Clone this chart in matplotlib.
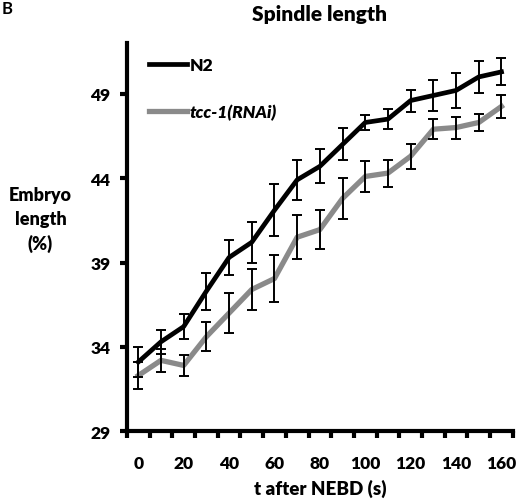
import matplotlib.pyplot as plt
import numpy as np

# time after NEBD (s)
t = [0, 10, 20, 30, 40, 50, 60, 70, 80, 90, 100, 110, 120, 130, 140, 150, 160]

# spindle length as % of embryo length
n2 = [33.1, 34.3, 35.2, 37.3, 39.3, 40.2, 42.1, 43.9, 44.7, 46.0, 47.3, 47.5, 48.6, 48.9, 49.2, 50.0, 50.3]
n2_err = [0.9, 0.7, 0.75, 1.1, 1.05, 1.2, 1.55, 1.2, 1.0, 0.95, 0.45, 0.6, 0.65, 0.9, 1.05, 0.95, 0.8]

tcc1 = [32.3, 33.2, 32.9, 34.6, 36.0, 37.4, 38.05, 40.5, 40.95, 42.8, 44.1, 44.3, 45.3, 46.9, 47.0, 47.3, 48.25]
tcc1_err = [0.8, 0.7, 0.6, 0.85, 1.2, 1.2, 1.4, 1.3, 1.15, 1.2, 0.9, 0.8, 0.75, 0.6, 0.65, 0.5, 0.7]

yticks = [29, 34, 39, 44, 49]
xlabels = [0, 20, 40, 60, 80, 100, 120, 140, 160]

plt.rcParams['font.family'] = ['Lato', 'DejaVu Sans']
plt.rcParams['font.weight'] = 'bold'

fig = plt.figure(figsize=(5.18, 5.02), dpi=100)
ax = fig.add_axes([0.245, 0.139, 0.745, 0.773])

ax.plot(t, n2, color='black', lw=3.4, label='N2', zorder=3)
ax.plot(t, tcc1, color='#8a8a8a', lw=3.8, label='tcc-1(RNAi)', zorder=3)
ax.errorbar(t, n2, yerr=n2_err, fmt='none', ecolor='black', elinewidth=1.4,
            capsize=3.5, capthick=1.4, zorder=4)
ax.errorbar(t, tcc1, yerr=tcc1_err, fmt='none', ecolor='black', elinewidth=1.4,
            capsize=3.5, capthick=1.4, zorder=4)

ax.set_xlim(-5, 165)
ax.set_ylim(29, 52)

ax.set_yticks(yticks)
ax.set_xticks(xlabels)
ax.set_xticks(np.arange(-5, 166, 10), minor=True)
ax.tick_params(axis='x', which='major', length=0, pad=17, labelsize=12.5)
ax.tick_params(axis='x', which='minor', length=5, width=3, direction='out')
ax.tick_params(axis='y', length=5, width=3, direction='out', pad=7, labelsize=12.5)
for lbl in ax.get_xticklabels() + ax.get_yticklabels():
    lbl.set_fontweight('heavy')

for s in ['top', 'right']:
    ax.spines[s].set_visible(False)
for s in ['left', 'bottom']:
    ax.spines[s].set_linewidth(3)

ax.set_title('Spindle length', fontsize=15, fontweight='heavy', pad=16.5)
ax.set_xlabel('t after NEBD (s)', fontsize=13.5, fontweight='heavy', labelpad=6)
fig.text(0.078, 0.562, 'Embryo\nlength\n(%)', ha='center', va='center',
         fontsize=13, fontweight='heavy', linespacing=1.5)
fig.text(0.003, 0.999, 'B', ha='left', va='top', fontsize=12)

leg = ax.legend(loc='upper left', frameon=False, fontsize=12.5,
                handlelength=2.2, labelspacing=1.75, borderaxespad=0.4,
                handletextpad=0.15, bbox_to_anchor=(0.02, 1.0))
for txt in leg.get_texts():
    txt.set_fontweight('heavy')
leg.get_texts()[1].set_fontstyle('italic')

fig.savefig('out.png', dpi=100)
